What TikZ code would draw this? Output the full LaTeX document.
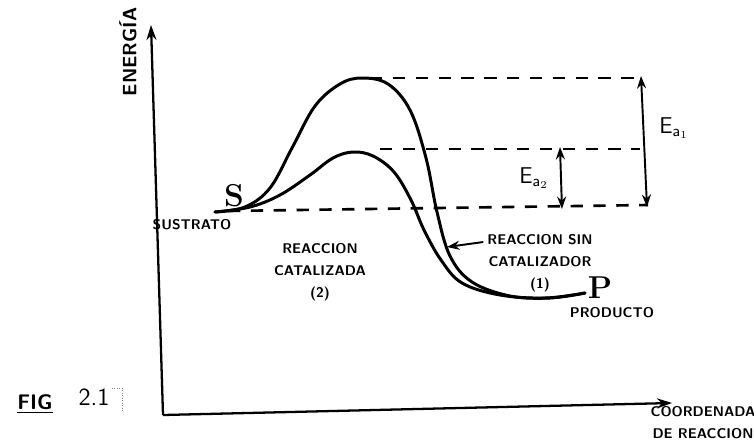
\documentclass[tikz,border=0pt]{standalone}
\usepackage{tikz}
\usetikzlibrary{arrows.meta,positioning}

\begin{document}
\begin{tikzpicture}[
          x=0.02cm, y=-0.02cm,
          node distance=1mm and 1mm,
          lbl/.style={font=\sffamily\bfseries\fontsize{8}{12.5}\selectfont, align=center, inner sep=1pt},
          big/.style={font=\rmfamily\bfseries\fontsize{18}{18}\selectfont, inner sep=0pt},
          axis/.style={-{Stealth[length=3mm, width=2mm]}, line width=1.3pt},
          curve/.style={line width=1.7pt, line cap=round},
          level/.style={dashed, dash pattern=on 7pt off 6pt, line width=1.5pt},
          gap/.style={{Stealth[length=2.5mm, width=1.8mm]}-{Stealth[length=2.5mm, width=1.8mm]}, line width=1.1pt},
          arr/.style={-{Stealth[length=2.5mm, width=1.8mm]}, line width=1.1pt}
        ]
        \useasboundingbox (0,0) rectangle (754,440);
        % axes
        \coordinate (o) at (163,415);
        \coordinate (ytop) at (151,25);
        \coordinate (xend) at (672,403);
        \draw[axis] (o) -- (ytop);
        \draw[axis] (o) -- (xend);
        \node[lbl, rotate=90, font=\sffamily\bfseries\fontsize{11}{11}\selectfont] (energia) at (128,52) {ENERG\'IA};
        \node[lbl] (coord) at (703,423) {COORDENADA\\DE REACCION};
        % curves
        \coordinate (s0) at (215,212);
        \coordinate (p0) at (585,293);
        \draw[curve] plot[smooth, tension=0.6] coordinates {(s0) (245,207) (270,188) (292,148) (315,106) (340,84) (362,78) (388,84) (410,110) (426,158) (437,212) (450,256) (472,282) (510,296) (550,298) (p0)};
        \draw[curve] plot[smooth, tension=0.6] coordinates {(s0) (250,207) (280,195) (310,175) (333,158) (353,152) (373,156) (394,172) (411,200) (424,230) (441,260) (462,283) (500,295) (545,298) (p0)};
        % energy levels
        \coordinate (top1) at (370,78);
        \coordinate (top1e) at (641,78);
        \coordinate (top2) at (380,149);
        \coordinate (top2e) at (640,149);
        \coordinate (base) at (228,211);
        \coordinate (basee) at (648,205);
        \draw[level] (top1) -- (top1e);
        \draw[level] (top2) -- (top2e);
        \draw[level] (base) -- (basee);
        \coordinate (ea1t) at (641,76);
        \coordinate (ea1b) at (647,207);
        \coordinate (ea2t) at (560,147);
        \coordinate (ea2b) at (562,209);
        \draw[gap] (ea1t) -- (ea1b);
        \draw[gap] (ea2t) -- (ea2b);
        \node[lbl, font=\sffamily\fontsize{13}{13}\selectfont] (ea1) at (674,128) {E$_{\mathsf{a}_1}$};
        \node[lbl, font=\sffamily\fontsize{13}{13}\selectfont] (ea2) at (534,178) {E$_{\mathsf{a}_2}$};
        % labels
        \node[big] (s) at (234,196) {S};
        \node[lbl] (sust) at (192,225) {SUSTRATO};
        \node[big] (p) at (600,288) {P};
        \node[lbl] (prod) at (612,313) {PRODUCTO};
        \node[lbl] (cat) at (320,272) {REACCION\\CATALIZADA\\(2)};
        \node[lbl] (sin) at (540,263) {REACCION SIN\\CATALIZADOR\\(1)};
        \coordinate (hit) at (447,247);
        \draw[arr] (sin.north west |- 0,242) ++(-2,0) coordinate (tail) -- (hit);
        % figure caption
        \node[lbl, font=\sffamily\bfseries\fontsize{12}{12}\selectfont] (fig) at (35,404) {\underline{FIG}};
        \node[lbl, font=\sffamily\fontsize{14}{14}\selectfont] (num) at (94,397) {2.1};
        \draw[gray, densely dotted, line width=0.4pt] (112,388) -- (122,388) -- (122,410);
      \end{tikzpicture}
\end{document}
